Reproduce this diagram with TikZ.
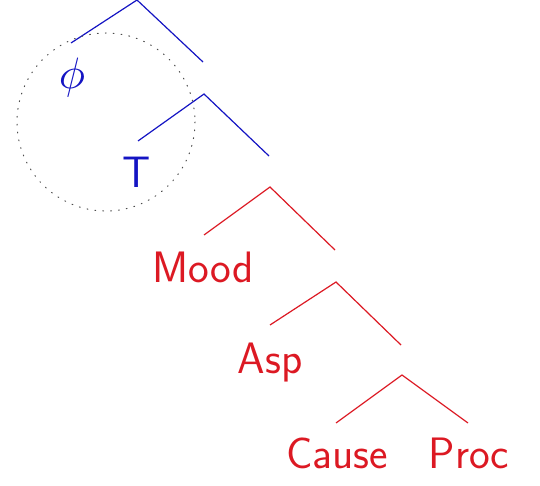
\documentclass[tikz,border=0pt]{standalone}
\usepackage{graphicx}
\definecolor{tblue}{RGB}{20,20,195}
\definecolor{tred}{RGB}{220,25,35}
\begin{document}
\begin{tikzpicture}[x=1pt,y=-1pt,
  lbl/.style={inner sep=0pt,anchor=base,font=\fontsize{44}{48}\selectfont\sffamily},
  br/.style={line width=1.2pt}]
\useasboundingbox (0,0) rectangle (540,486);
% blue part
\coordinate (a1) at (137,0);
\coordinate (l1) at (71,43);
\coordinate (r1) at (203,62);
\coordinate (a2) at (204,94);
\coordinate (l2) at (138,141);
\coordinate (r2) at (269,156);
\draw[br,tblue] (l1) -- (a1) -- (r1);
\draw[br,tblue] (l2) -- (a2) -- (r2);
\node[tblue,inner sep=0pt,font=\normalsize] (phi) at (72,78) {\scalebox{4.4}{$\phi$}};
\node[lbl,tblue] (T) at (137,188) {T};
% red part
\coordinate (a3) at (270,187);
\coordinate (l3) at (204,235);
\coordinate (r3) at (335,250);
\coordinate (a4) at (336,282);
\coordinate (l4) at (270,325);
\coordinate (r4) at (401,345);
\coordinate (a5) at (402,375);
\coordinate (l5) at (336,423);
\coordinate (r5) at (468,423);
\draw[br,tred] (l3) -- (a3) -- (r3);
\draw[br,tred] (l4) -- (a4) -- (r4);
\draw[br,tred] (l5) -- (a5) -- (r5);
\node[lbl,tred] (mood) at (203,282) {Mood};
\node[lbl,tred] (asp) at (270,373) {Asp};
\node[lbl,tred] (cause) at (337,468) {Cause};
\node[lbl,tred] (proc) at (469,468) {Proc};
% dotted circle
\coordinate (cc) at (106,122);
\draw[line width=1pt,black!70,dash pattern=on 0.9pt off 7pt,line cap=round] (cc) circle[radius=89];
\end{tikzpicture}
\end{document}
